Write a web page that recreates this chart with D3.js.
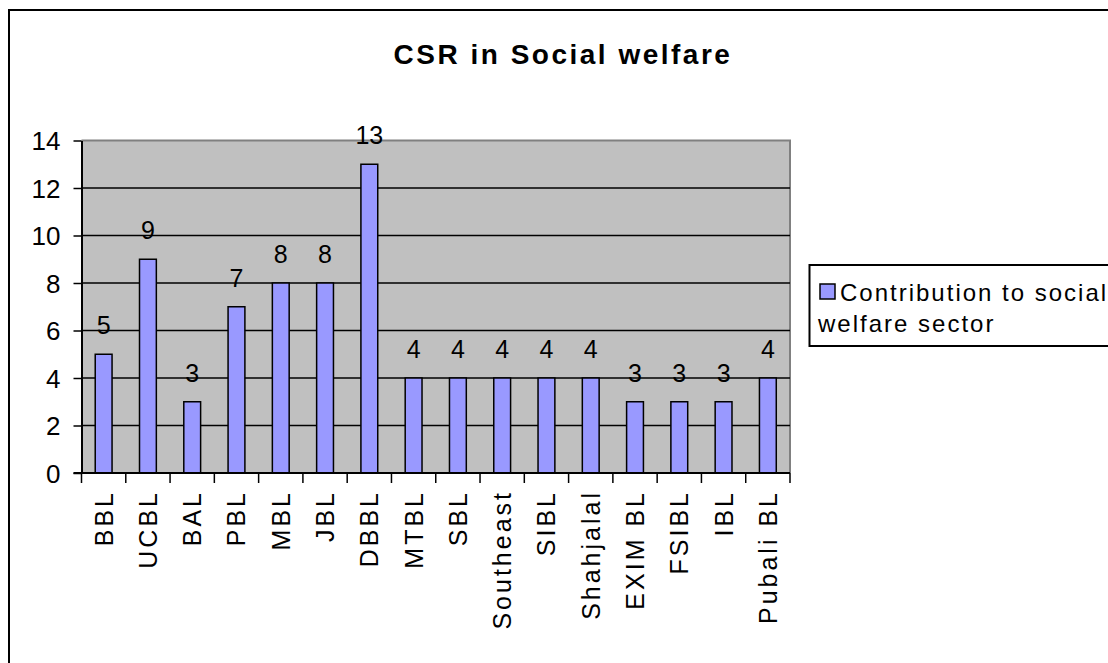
<!DOCTYPE html>
<html>
<head>
<meta charset="utf-8">
<script src="https://cdn.jsdelivr.net/npm/d3@7"></script>
<style>
  html, body { margin: 0; padding: 0; background: #fff; }
  svg { display: block; }
  text { font-family: Arial, "Liberation Sans", sans-serif; fill: #000; }
</style>
</head>
<body>
<svg id="chart" width="1108" height="663"></svg>
<script>
const titleText = "CSR in Social welfare";
const categories = ["BBL", "UCBL", "BAL", "PBL", "MBL", "JBL", "DBBL", "MTBL", "SBL", "Southeast", "SIBL", "Shahjalal", "EXIM BL", "FSIBL", "IBL", "Pubali  BL"];
const values = [5, 9, 3, 7, 8, 8, 13, 4, 4, 4, 4, 4, 3, 3, 3, 4];
const yTicks = [0, 2, 4, 6, 8, 10, 12, 14];
const seriesName = ["Contribution to social", "welfare sector"];

const svg = d3.select("#chart");

// outer chart border
svg.append("rect")
  .attr("x", 9).attr("y", 10).attr("width", 1200).attr("height", 800)
  .attr("fill", "none").attr("stroke", "#000").attr("stroke-width", 2);

const plotL = 81.5, plotR = 790, plotT = 140.5, plotB = 473;

const x = d3.scaleBand().domain(categories).range([plotL, plotR])
  .paddingInner(0.62).paddingOuter(0.31);
const y = d3.scaleLinear().domain([0, 14]).range([plotB, plotT]);
const step = x.step();

// plot background
svg.append("rect")
  .attr("x", plotL).attr("y", plotT).attr("width", plotR - plotL).attr("height", plotB - plotT)
  .attr("fill", "#C0C0C0");

// top/right plot border
svg.append("path")
  .attr("d", `M${plotL},${plotT}H${plotR}V${plotB}`)
  .attr("fill", "none").attr("stroke", "#808080").attr("stroke-width", 2);

// gridlines
svg.append("g").selectAll("line").data(yTicks.filter(d => d > 0 && d < 14)).join("line")
  .attr("x1", plotL).attr("x2", plotR)
  .attr("y1", d => y(d)).attr("y2", d => y(d))
  .attr("stroke", "#000").attr("stroke-width", 1.5);

// bars
svg.append("g").selectAll("rect").data(values).join("rect")
  .attr("x", (d, i) => x(categories[i]))
  .attr("y", d => y(d))
  .attr("width", x.bandwidth())
  .attr("height", d => y(0) - y(d))
  .attr("fill", "#9999FF").attr("stroke", "#000").attr("stroke-width", 1.5);

// data labels
svg.append("g").selectAll("text").data(values).join("text")
  .attr("x", (d, i) => x(categories[i]) + x.bandwidth() / 2)
  .attr("y", d => y(d) - 20)
  .attr("text-anchor", "middle")
  .attr("font-size", 25)
  .text(d => d);

// y axis
const yAxis = svg.append("g").attr("transform", `translate(${plotL},0)`)
  .call(d3.axisLeft(y).tickValues(yTicks).tickSize(8).tickPadding(13).tickSizeOuter(0));
yAxis.select(".domain").attr("stroke", "#000").attr("stroke-width", 2);
yAxis.selectAll(".tick line").attr("stroke", "#000").attr("stroke-width", 1.5);
yAxis.selectAll(".tick text").attr("font-size", 26).attr("font-family", "Arial, 'Liberation Sans', sans-serif").attr("dy", "0.36em");

// x axis
const xAxisG = svg.append("g");
xAxisG.append("line").attr("x1", plotL - 8).attr("x2", plotR).attr("y1", plotB).attr("y2", plotB)
  .attr("stroke", "#000").attr("stroke-width", 2);
const bounds = d3.range(categories.length + 1);
xAxisG.selectAll("line.tk").data(bounds).join("line").attr("class", "tk")
  .attr("x1", i => plotL + i * step).attr("x2", i => plotL + i * step)
  .attr("y1", plotB).attr("y2", plotB + 10)
  .attr("stroke", "#000").attr("stroke-width", 1.5);
xAxisG.selectAll("text").data(categories).join("text")
  .attr("transform", d => `translate(${x(d) + x.bandwidth() / 2},490) rotate(-90)`)
  .attr("text-anchor", "end")
  .attr("dy", "0.36em")
  .attr("font-size", 25)
  .attr("letter-spacing", 3)
  .text(d => d);

// title
svg.append("text")
  .attr("x", 563).attr("y", 64)
  .attr("text-anchor", "middle")
  .attr("font-size", 28).attr("font-weight", "bold")
  .attr("letter-spacing", 2.5)
  .text(titleText);

// legend
svg.append("rect").attr("x", 809.5).attr("y", 265).attr("width", 400).attr("height", 81)
  .attr("fill", "#fff").attr("stroke", "#000").attr("stroke-width", 2);
svg.append("rect").attr("x", 820).attr("y", 284).attr("width", 15).attr("height", 15)
  .attr("fill", "#9999FF").attr("stroke", "#000").attr("stroke-width", 1.5);
svg.append("text").attr("x", 840).attr("y", 301).attr("font-size", 24).attr("letter-spacing", 2)
  .text(seriesName[0]);
svg.append("text").attr("x", 818).attr("y", 332).attr("font-size", 24).attr("letter-spacing", 2)
  .text(seriesName[1]);
</script>
</body>
</html>
